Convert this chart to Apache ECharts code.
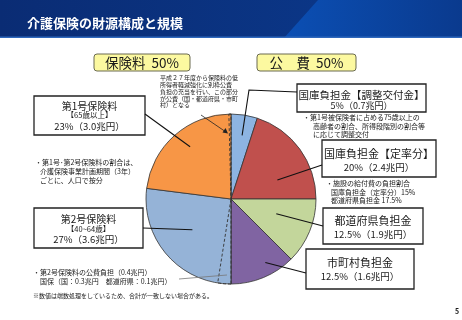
<!DOCTYPE html>
<html>
<head>
<meta charset="utf-8">
<script src="https://cdn.jsdelivr.net/npm/echarts@6/dist/echarts.min.js"></script>
<style>
  html, body { margin: 0; padding: 0; background: #fff; }
  #chart { width: 462px; height: 320px; }
</style>
</head>
<body>
<div id="chart"></div>
<script>
'use strict';

/* Data */
const sliceNames = ['国庫負担金【調整交付金】', '国庫負担金【定率分】', '都道府県負担金', '市町村負担金', '第2号保険料', '第1号保険料'];
const sliceShares = [5, 20, 12.5, 12.5, 27, 23];
const sliceAmounts = ['0.7', '2.4', '1.9', '1.6', '3.6', '3.0'];
const sliceAges = ['', '', '', '', '【40~64歳】', '【65歳以上】'];
const sliceColors = ['#8db4e2', '#c0504d', '#c3d69b', '#8064a2', '#95b3d7', '#f79646'];
// public-funded parts inside the premium slices (start of 第2号, end of 第1号)
const premiumPublicShares = [2.5, 0.4];

(function () {
  const FONT = '"Noto Sans CJK JP", "Noto Sans", sans-serif';
  const CX = 231, CY = 199, R = 85;

  // Box / leader layout per slice: box rect, text rows (dy, size), anchor (fraction of slice sweep, fraction of radius)
  const layout = [
    { box: [297, 84, 129, 28], rows: [[11, 10.5], [22, 9]], via: [[297, 92], [249, 90]], anchor: [0.55, 0.76] },
    { box: [322, 140, 114, 37], rows: [[14, 11], [27, 9.5]], via: [[322, 165]], anchor: [0.69, 0.59] },
    { box: [323, 208, 100, 36], rows: [[13, 11], [26, 9.5]], via: [[323, 226]], anchor: [0.4, 0.56] },
    { box: [306, 249, 108, 40], rows: [[14, 11], [27, 9.5]], via: [[306, 273]], anchor: [0.37, 0.85] },
    { box: [34, 208, 109, 40], rows: [[11, 10], [21, 7.5], [31, 9.5]], via: [[143, 228]], anchor: [0.53, 0.58] },
    { box: [34, 96, 111, 39], rows: [[10, 10], [19.5, 7.5], [30, 9.5]], via: [[145, 114]], anchor: [0.54, 0.78] },
  ];

  const total = sliceShares.reduce((a, b) => a + b, 0);
  const pt = (deg, r) => [CX + r * Math.sin(deg * Math.PI / 180), CY - r * Math.cos(deg * Math.PI / 180)];

  const txt = (text, x, y, size, opts) => ({
    type: 'text',
    silent: true,
    style: Object.assign({
      text, x, y,
      font: `${size}px ${FONT}`,
      fill: '#1a1a1a',
      align: 'left', verticalAlign: 'middle',
      textAlign: 'left', textVerticalAlign: 'middle',
    }, opts || {}),
  });
  const centered = (text, x, y, size, bold) =>
    txt(text, x, y, size, { align: 'center', textAlign: 'center', font: `${bold ? 'bold ' : ''}${size}px ${FONT}` });

  const graphics = [];

  /* Title bar */
  graphics.push({
    type: 'rect', silent: true, shape: { x: 0, y: 0, width: 462, height: 38 },
    style: { fill: new echarts.graphic.LinearGradient(0, 0, 1, 0, [{ offset: 0, color: '#0a2c74' }, { offset: 1, color: '#0b3a8e' }]) },
  });
  graphics.push({
    type: 'polygon', silent: true, shape: { points: [[318, 0], [462, 0], [462, 38], [284, 38]] },
    style: { fill: new echarts.graphic.LinearGradient(0, 0, 1, 0, [{ offset: 0, color: '#0b4fb4' }, { offset: 1, color: '#0a3a8e' }]) },
  });
  graphics.push({ type: 'rect', silent: true, shape: { x: 0, y: 36.5, width: 462, height: 1.5 }, style: { fill: '#2f68bc' } });
  graphics.push(txt('介護保険の財源構成と規模', 27, 23, 13, { fill: '#fff', font: `bold 13px ${FONT}` }));

  /* Yellow headers */
  [['保険料  50%', 94, 96], ['公　費  50%', 257, 99]].forEach(([t, x, w]) => {
    graphics.push({
      type: 'rect', silent: true, shape: { x, y: 54, width: w, height: 17, r: 3 },
      style: { fill: '#fcf9a0', stroke: '#6b6b50', lineWidth: 1 },
    });
    graphics.push(centered(t, x + w / 2, 62.5, 13.5));
  });

  /* Slice boxes and leader lines */
  let start = 0;
  sliceShares.forEach((share, i) => {
    const sweep = share / total * 360;
    const L = layout[i];
    const anchor = pt(start + sweep * L.anchor[0], R * L.anchor[1]);
    start += sweep;

    graphics.push({
      type: 'polyline', silent: true, z: 10,
      shape: { points: L.via.concat([anchor]) },
      style: { stroke: '#111', lineWidth: 1.1, fill: null },
    });
    const [bx, by, bw, bh] = L.box;
    graphics.push({
      type: 'rect', silent: true, shape: { x: bx, y: by, width: bw, height: bh },
      style: { fill: '#fff', stroke: '#222', lineWidth: 1.3 },
    });
    const rows = [sliceNames[i]];
    if (sliceAges[i]) rows.push(sliceAges[i]);
    rows.push(`${share}%（${sliceAmounts[i]}兆円）`);
    rows.forEach((t, k) => graphics.push(centered(t, bx + bw / 2, by + L.rows[k][0], L.rows[k][1])));
  });

  /* Notes */
  const notes = [
    ['・第1号被保険者に占める75歳以上の', 303, 117, 7],
    ['高齢者の割合、所得段階別の割合等', 313, 126, 7],
    ['に応じて調整交付', 313, 134.5, 7],
    ['・施設の給付費の負担割合', 326, 183, 7],
    ['国庫負担金（定率分）15%', 331, 192, 7],
    ['都道府県負担金 17.5%', 331, 200.5, 7],
    ['・第1号･第2号保険料の割合は、', 35, 162, 7],
    ['介護保険事業計画期間（3年）', 40, 171, 7],
    ['ごとに、人口で按分', 40, 180, 7],
    ['・第2号保険料の公費負担（0.4兆円）', 33, 272, 7],
    ['国保（国：0.3兆円　都道府県：0.1兆円）', 40, 281, 7],
    ['※数値は端数処理をしているため、合計が一致しない場合がある。', 33, 296, 6],
    ['平成２７年度から保険料の低', 160, 78, 6],
    ['所得者軽減強化に別枠公費', 160, 85, 6],
    ['負担の充当を行い、この部分', 160, 92, 6],
    ['が公費（国・都道府県・市町', 160, 98.5, 6],
    ['村）となる', 160, 105, 6],
  ];
  notes.forEach(([t, x, y, s]) => graphics.push(txt(t, x, y, s)));
  graphics.push(txt('5', 455, 311, 7, { font: `bold 7px ${FONT}` }));

  /* Arrow to the dashed part at the top, and pointer to the bottom one */
  graphics.push({
    type: 'line', silent: true, z: 10, shape: { x1: 201, y1: 115, x2: 226, y2: 132 },
    style: { stroke: '#222', lineWidth: 0.8 },
  });
  graphics.push({
    type: 'polygon', silent: true, z: 10, shape: { points: [[228, 133.5], [222.5, 132.5], [225.5, 128]] },
    style: { fill: '#222' },
  });
  graphics.push({
    type: 'line', silent: true, z: 10, shape: { x1: 179, y1: 279, x2: 227, y2: 275 },
    style: { stroke: '#777', lineWidth: 0.8 },
  });

  /* Dashed overlay for the public-funded premium parts */
  const publicTotal = sliceShares.slice(0, 4).reduce((a, b) => a + b, 0);
  const premiumTotal = total - publicTotal;
  const hidden = { color: 'rgba(0,0,0,0)', borderWidth: 0 };
  const dashed = { color: 'rgba(0,0,0,0)', borderColor: '#333', borderWidth: 0.9, borderType: [3, 2] };
  const overlayData = [
    { value: publicTotal, itemStyle: hidden },
    { value: premiumPublicShares[0], itemStyle: dashed },
    { value: premiumTotal - premiumPublicShares[0] - premiumPublicShares[1], itemStyle: hidden },
    { value: premiumPublicShares[1], itemStyle: dashed },
  ];

  const chart = echarts.init(document.getElementById('chart'), null, { renderer: 'canvas' });
  chart.setOption({
    animation: false,
    backgroundColor: '#fff',
    series: [
      {
        type: 'pie',
        center: [CX, CY],
        radius: R,
        startAngle: 90,
        clockwise: true,
        silent: true,
        label: { show: false },
        labelLine: { show: false },
        itemStyle: { borderColor: '#333', borderWidth: 0.8 },
        data: sliceShares.map((v, i) => ({ name: sliceNames[i], value: v, itemStyle: { color: sliceColors[i] } })),
      },
      {
        type: 'pie',
        center: [CX, CY],
        radius: R,
        startAngle: 90,
        clockwise: true,
        silent: true,
        z: 3,
        label: { show: false },
        labelLine: { show: false },
        data: overlayData,
      },
    ],
    graphic: { elements: graphics },
  });
})();
</script>
</body>
</html>
